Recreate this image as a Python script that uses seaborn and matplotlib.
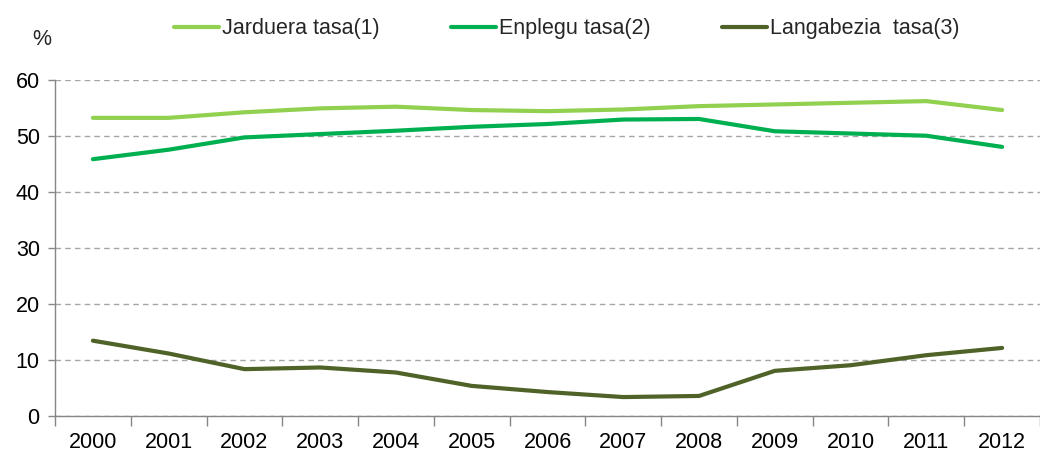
import matplotlib
matplotlib.use("Agg")
import matplotlib.pyplot as plt
import pandas as pd
import seaborn as sns
from matplotlib.ticker import FixedLocator

years = [str(y) for y in range(2000, 2013)]
jarduera = [53.3, 53.3, 54.3, 55.0, 55.3, 54.7, 54.5, 54.8, 55.4, 55.7, 56.0, 56.3, 54.7]
enplegu = [45.9, 47.6, 49.8, 50.4, 51.0, 51.7, 52.2, 53.0, 53.1, 50.9, 50.5, 50.1, 48.1]
langabezia = [13.4, 11.1, 8.3, 8.6, 7.7, 5.3, 4.2, 3.3, 3.5, 8.0, 9.0, 10.8, 12.1]
series_names = ["Jarduera tasa(1)", "Enplegu tasa(2)", "Langabezia  tasa(3)"]
colors = ["#92D050", "#00B050", "#4F6228"]

df = pd.DataFrame({
    "idx": list(range(len(years))) * 3,
    "value": jarduera + enplegu + langabezia,
    "series": [n for n in series_names for _ in years],
})

sns.set_theme(style="white")
plt.rcParams["font.family"] = ["Liberation Sans", "DejaVu Sans"]
FS = 15.5

fig = plt.figure(figsize=(10.4, 4.54), dpi=100)
ax = fig.add_axes([0.0529, 0.0848, 0.9471, 0.738])

sns.lineplot(data=df, x="idx", y="value", hue="series", hue_order=series_names,
             palette=colors, linewidth=3, ax=ax, legend=False)

ax.set_xlim(-0.5, 12.5)
ax.set_ylim(0, 60)
ax.set_yticks(range(0, 61, 10))
ax.yaxis.grid(True, color="#A6A6A6", linestyle=(0, (4, 3)), linewidth=1)
ax.set_axisbelow(True)

ax.xaxis.set_major_locator(FixedLocator([i - 0.5 for i in range(len(years) + 1)]))
ax.xaxis.set_minor_locator(FixedLocator(list(range(len(years)))))
ax.set_xticklabels([])
ax.set_xticklabels(years, minor=True)
ax.tick_params(axis="x", which="major", length=7, width=1, color="#868686", direction="out", bottom=True)
ax.tick_params(axis="x", which="minor", length=0, pad=12, labelsize=FS, labelcolor="#000000")
ax.tick_params(axis="y", length=5, width=1, color="#868686", direction="out", left=True,
               labelsize=FS, labelcolor="#000000", pad=6)

for side in ["top", "right"]:
    ax.spines[side].set_visible(False)
for side in ["left", "bottom"]:
    ax.spines[side].set_color("#868686")
    ax.spines[side].set_linewidth(1)

ax.set_xlabel("")
ax.set_ylabel("")

handles = [plt.Line2D([], [], color=c, linewidth=3) for c in colors]
fig.legend(handles, series_names, loc="center", bbox_to_anchor=(0.545, 0.937), ncol=3,
           frameon=False, handlelength=2.1, handletextpad=0.15, columnspacing=3.3,
           fontsize=FS)

fig.text(0.04, 0.913, "%", ha="center", va="center", fontsize=FS)

fig.savefig("out.png", dpi=100)
